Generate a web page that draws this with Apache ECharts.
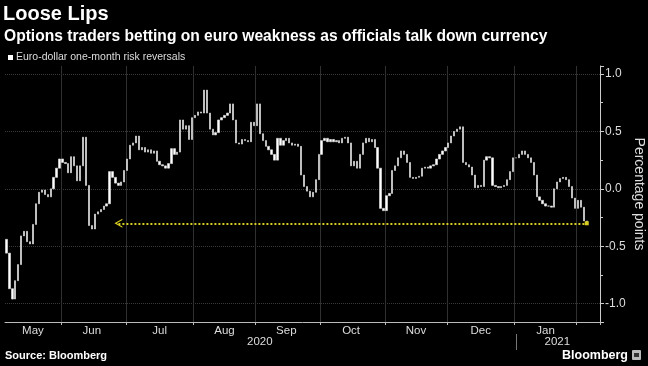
<!DOCTYPE html>
<html><head><meta charset="utf-8">
<script src="https://cdn.jsdelivr.net/npm/echarts@6/dist/echarts.min.js"></script>
<style>html,body{margin:0;padding:0;background:#000}#c{width:648px;height:366px}</style>
</head><body><div id="c"></div>
<script>
// ---- data (closing values of daily bars, percentage points) ----
const seriesName = 'Euro-dollar one-month risk reversals';
const firstOpen = -0.44;
const may2020 = [-0.56,-0.87,-0.96,-0.80,-0.66,-0.41,-0.37,-0.46,-0.48,-0.31,-0.13,-0.03,-0.01,-0.05,-0.07,0.0,0.10,0.18,0.26];
const jun2020 = [0.23,0.22,0.14,0.28,0.20,0.07,0.20,0.45,0.03,-0.32,-0.35,-0.22,-0.20,-0.18,-0.15,-0.13,0.15,0.10,0.05,0.03,0.06,0.16];
const jul2020 = [0.26,0.38,0.40,0.46,0.34,0.36,0.32,0.34,0.31,0.33,0.24,0.21,0.20,0.18,0.22,0.35,0.30,0.32,0.60,0.52,0.55,0.43,0.62];
const aug2020 = [0.64,0.67,0.66,0.86,0.66,0.52,0.47,0.49,0.60,0.62,0.64,0.66,0.74,0.60,0.40,0.39,0.43,0.42,0.41,0.58,0.55];
const sep2020 = [0.74,0.48,0.42,0.37,0.34,0.30,0.25,0.44,0.38,0.42,0.44,0.40,0.38,0.39,0.37,0.12,0.02,-0.02,-0.07,-0.03,0.08,0.30];
const oct2020 = [0.42,0.44,0.41,0.43,0.41,0.42,0.40,0.44,0.45,0.40,0.20,0.24,0.18,0.30,0.40,0.44,0.41,0.43,0.36,0.18,-0.17,-0.19];
const nov2020 = [-0.06,-0.04,0.16,0.20,0.27,0.33,0.30,0.23,0.10,0.09,0.10,0.11,0.18,0.19,0.18,0.20,0.21,0.26,0.30,0.33,0.36];
const dec2020 = [0.40,0.46,0.50,0.52,0.54,0.23,0.21,0.19,0.12,0.01,0.03,0.02,0.25,0.28,0.27,0.03,0.02,0.01,0.02,0.03,0.08,0.15,0.27];
const jan2021 = [0.27,0.30,0.33,0.30,0.27,0.23,0.12,-0.07,-0.10,-0.13,-0.15,-0.15,-0.16,0.0,0.06,0.09,0.10,0.08,0.02,-0.08,-0.17];
const feb2021 = [-0.10,-0.16,-0.28,-0.30];
const arrowLevel = -0.30;
const arrowStartDate = '2020-06-26';
const startDate = '2020-05-05';
const endDate = '2021-02-10';
const monthNames = ['Jan','Feb','Mar','Apr','May','Jun','Jul','Aug','Sep','Oct','Nov','Dec'];

// ---- categories: weekdays ----
const dates = [];
for (let d = new Date(startDate + 'T00:00:00Z'); d <= new Date(endDate + 'T00:00:00Z'); d.setUTCDate(d.getUTCDate() + 1)) {
  const w = d.getUTCDay();
  if (w !== 0 && w !== 6) dates.push(d.toISOString().slice(0, 10));
}
const closes = [].concat(may2020, jun2020, jul2020, aug2020, sep2020, oct2020, nov2020, dec2020, jan2021, feb2021);
const ohlc = closes.map((c, i) => {
  const o = i === 0 ? firstOpen : closes[i - 1];
  return [o, c, Math.min(o, c), Math.max(o, c)];
});
const lastDataDate = dates[closes.length - 1];

// month / year groups
const monthStart = {}; const monthMid = {}; const yearMid = {}; const yearStart = {};
let gStart = 0;
for (let i = 1; i <= dates.length; i++) {
  if (i === dates.length || dates[i].slice(0, 7) !== dates[i - 1].slice(0, 7)) {
    const ym = dates[gStart].slice(0, 7);
    if (ym !== '2021-02') monthMid[Math.floor((gStart + i - 1) / 2)] = true;
    if (i < dates.length) monthStart[i] = true;
    gStart = i;
  }
}
let yS = 0;
for (let i = 1; i <= dates.length; i++) {
  if (i === dates.length || dates[i].slice(0, 4) !== dates[i - 1].slice(0, 4)) {
    yearMid[Math.floor((yS + i - 1) / 2)] = true;
    if (i < dates.length) yearStart[i] = true;
    yS = i;
  }
}

const FONT = 'Liberation Sans';
const chart = echarts.init(document.getElementById('c'), null, {renderer: 'canvas'});
chart.setOption({
  backgroundColor: '#000',
  animation: false,
  textStyle: {fontFamily: FONT},
  title: [
    {text: 'Loose Lips', left: 3, top: 4, padding: 0, textStyle: {color: '#fff', fontSize: 20, fontWeight: 'bold', fontFamily: FONT}},
    {text: 'Options traders betting on euro weakness as officials talk down currency', left: 4, top: 29, padding: 0,
     textStyle: {color: '#fff', fontSize: 15.6, fontWeight: 'bold', fontFamily: FONT}},
    {text: 'Source: Bloomberg', left: 5, top: 350, padding: 0, textStyle: {color: '#fff', fontSize: 11, fontWeight: 'bold', fontFamily: FONT}},
    {text: 'Bloomberg', right: 20, top: 349, padding: 0, textStyle: {color: '#fff', fontSize: 12.5, fontWeight: 'bold', fontFamily: FONT}}
  ],
  legend: {
    left: 8, top: 52, padding: 0, itemWidth: 5, itemHeight: 5, icon: 'rect', itemGap: 4,
    textStyle: {color: '#ddd', fontSize: 10.5, fontFamily: FONT, padding: [0, 0, 0, -2]},
    data: [{name: seriesName, itemStyle: {color: '#fff', borderWidth: 0}}]
  },
  graphic: [
    {type: 'rect', left: 632, top: 350, shape: {width: 9, height: 10, r: 1}, style: {fill: '#bbb'}},
    {type: 'rect', left: 634, top: 353, shape: {width: 5, height: 4}, style: {fill: '#333'}}
  ],
  grid: {left: 5, right: 48, top: 66, bottom: 44, containLabel: false, outerBoundsMode: 'none'},
  xAxis: [
    {
      type: 'category', data: dates, boundaryGap: true,
      axisLine: {show: true, onZero: false, lineStyle: {color: '#bbb', width: 1}},
      axisTick: {show: true, interval: (i) => !!monthStart[i], length: 3, lineStyle: {color: '#bbb'}},
      axisLabel: {interval: (i) => !!monthMid[i], formatter: (v) => monthNames[+v.slice(5, 7) - 1],
                  color: '#ddd', fontSize: 11.5, margin: 3, fontFamily: FONT},
      splitLine: {show: true, interval: (i) => !!monthStart[i], lineStyle: {color: '#303030', width: 1}}
    },
    {
      type: 'category', data: dates, boundaryGap: true, position: 'bottom', offset: 12,
      axisLine: {show: false, onZero: false},
      axisTick: {show: true, alignWithLabel: true, interval: (i) => !!yearStart[i], length: 16, lineStyle: {color: '#777'}},
      axisLabel: {interval: (i) => !!yearMid[i], formatter: (v) => v.slice(0, 4),
                  color: '#ddd', fontSize: 11.5, margin: 2, fontFamily: FONT},
      splitLine: {show: false}
    }
  ],
  yAxis: {
    type: 'value', position: 'right', min: -1.16, max: 1.07, splitNumber: 5, scale: false,
    axisLine: {show: true, lineStyle: {color: '#ccc'}},
    axisTick: {show: true, length: 4, lineStyle: {color: '#ccc'}},
    minorTick: {show: true, splitNumber: 2, length: 3, lineStyle: {color: '#ccc'}},
    axisLabel: {color: '#ddd', fontSize: 12, margin: 5, showMinLabel: false, showMaxLabel: false,
                formatter: (v) => v.toFixed(1), fontFamily: FONT},
    splitLine: {show: true, showMinLine: false, showMaxLine: false, lineStyle: {color: '#3a3a3a', type: 'dotted'}},
    name: 'Percentage points', nameLocation: 'middle', nameRotate: -90, nameGap: 32, nameMoveOverlap: false,
    nameTextStyle: {color: '#ddd', fontSize: 14, fontFamily: FONT}
  },
  series: [{
    name: seriesName, type: 'candlestick', xAxisIndex: 0, data: ohlc, barWidth: 1.8,
    itemStyle: {color: '#fff', color0: '#fff', borderColor: '#d8d8d8', borderColor0: '#d8d8d8', borderWidth: 0.7},
    markLine: {
      silent: true, animation: false, label: {show: false},
      lineStyle: {color: '#d8cc22', type: 'dotted', width: 2},
      emphasis: {disabled: true},
      data: [[
        {coord: [arrowStartDate, arrowLevel], symbol: 'path://M0,10 L5,0 L10,10 L8.6,10 L5,3 L1.4,10 Z', symbolSize: [9, 8]},
        {coord: [lastDataDate, arrowLevel], symbol: 'rect', symbolSize: 4}
      ]]
    }
  }]
});
</script></body></html>
